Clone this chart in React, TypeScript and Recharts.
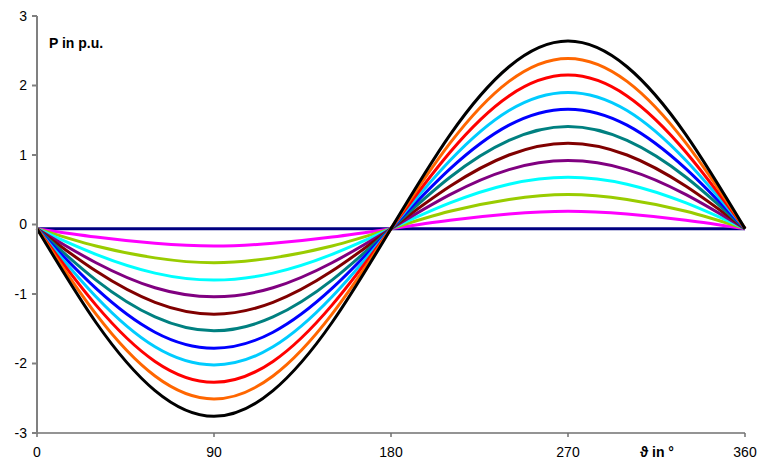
import { CartesianGrid, Line, LineChart, XAxis, YAxis } from "recharts";

// rotor angle in degrees
const theta = [0, 30, 60, 90, 120, 150, 180, 210, 240, 270, 300, 330, 360];

// active power curves (p.u.), smallest to largest
const p0 = [-0.06, -0.06, -0.06, -0.06, -0.06, -0.06, -0.06, -0.06, -0.06, -0.06, -0.06, -0.06, -0.06];
const p1 = [-0.06, -0.18, -0.27, -0.31, -0.27, -0.18, -0.06, 0.06, 0.15, 0.19, 0.15, 0.06, -0.06];
const p2 = [-0.06, -0.31, -0.48, -0.55, -0.48, -0.31, -0.06, 0.19, 0.36, 0.43, 0.36, 0.19, -0.06];
const p3 = [-0.06, -0.43, -0.7, -0.8, -0.7, -0.43, -0.06, 0.31, 0.58, 0.68, 0.58, 0.31, -0.06];
const p4 = [-0.06, -0.55, -0.91, -1.04, -0.91, -0.55, -0.06, 0.43, 0.79, 0.92, 0.79, 0.43, -0.06];
const p5 = [-0.06, -0.67, -1.12, -1.29, -1.12, -0.67, -0.06, 0.55, 1.0, 1.17, 1.0, 0.55, -0.06];
const p6 = [-0.06, -0.8, -1.33, -1.53, -1.33, -0.8, -0.06, 0.68, 1.21, 1.41, 1.21, 0.68, -0.06];
const p7 = [-0.06, -0.92, -1.55, -1.78, -1.55, -0.92, -0.06, 0.8, 1.43, 1.66, 1.43, 0.8, -0.06];
const p8 = [-0.06, -1.04, -1.76, -2.02, -1.76, -1.04, -0.06, 0.92, 1.64, 1.9, 1.64, 0.92, -0.06];
const p9 = [-0.06, -1.16, -1.97, -2.27, -1.97, -1.16, -0.06, 1.04, 1.85, 2.15, 1.85, 1.04, -0.06];
const p10 = [-0.06, -1.29, -2.18, -2.51, -2.18, -1.29, -0.06, 1.17, 2.06, 2.39, 2.06, 1.17, -0.06];
const p11 = [-0.06, -1.41, -2.39, -2.76, -2.39, -1.41, -0.06, 1.29, 2.27, 2.64, 2.27, 1.29, -0.06];

const series = [p0, p1, p2, p3, p4, p5, p6, p7, p8, p9, p10, p11];
const colors = [
  "#000080",
  "#FF00FF",
  "#99CC00",
  "#00FFFF",
  "#800080",
  "#800000",
  "#008080",
  "#0000FF",
  "#00CCFF",
  "#FF0000",
  "#FF6600",
  "#000000",
];

const xTicks = [0, 90, 180, 270, 360];
const yTicks = [-3, -2, -1, 0, 1, 2, 3];

const data = theta.map((t, i) => {
  const row: Record<string, number> = { theta: t };
  series.forEach((s, k) => {
    row[`p${k}`] = s[i];
  });
  return row;
});

const font = "'Liberation Sans', Arial, sans-serif";

export default function App() {
  return (
    <div style={{ position: "absolute", left: 0, top: 0, width: 760, height: 462, background: "#fff", fontFamily: font }}>
      <LineChart width={760} height={462} data={data} margin={{ top: 16, right: 15, left: 0, bottom: 0 }}>
        <CartesianGrid stroke="none" />
        <XAxis
          dataKey="theta"
          type="number"
          domain={[0, 360]}
          ticks={xTicks}
          interval={0}
          height={29}
          tickSize={4}
          tickMargin={10}
          stroke="#707070"
          strokeWidth={1.5}
          tick={{ fill: "#000", fontSize: 14, fontFamily: font }}
        />
        <YAxis
          type="number"
          domain={[-3, 3]}
          ticks={yTicks}
          interval={0}
          width={37}
          tickSize={5}
          tickMargin={5}
          stroke="#808080"
          strokeWidth={2}
          tick={{ fill: "#000", fontSize: 14, fontFamily: font }}
        />
        {colors.map((c, k) => (
          <Line
            key={k}
            type="natural"
            dataKey={`p${k}`}
            stroke={c}
            strokeWidth={3}
            dot={false}
            isAnimationActive={false}
          />
        ))}
      </LineChart>
      <div style={{ position: "absolute", left: 49, top: 35, fontSize: 14, fontWeight: "bold", color: "#000" }}>P in p.u.</div>
      <div style={{ position: "absolute", left: 640, top: 444, fontSize: 14, fontWeight: "bold", color: "#000" }}>ϑ in °</div>
    </div>
  );
}
